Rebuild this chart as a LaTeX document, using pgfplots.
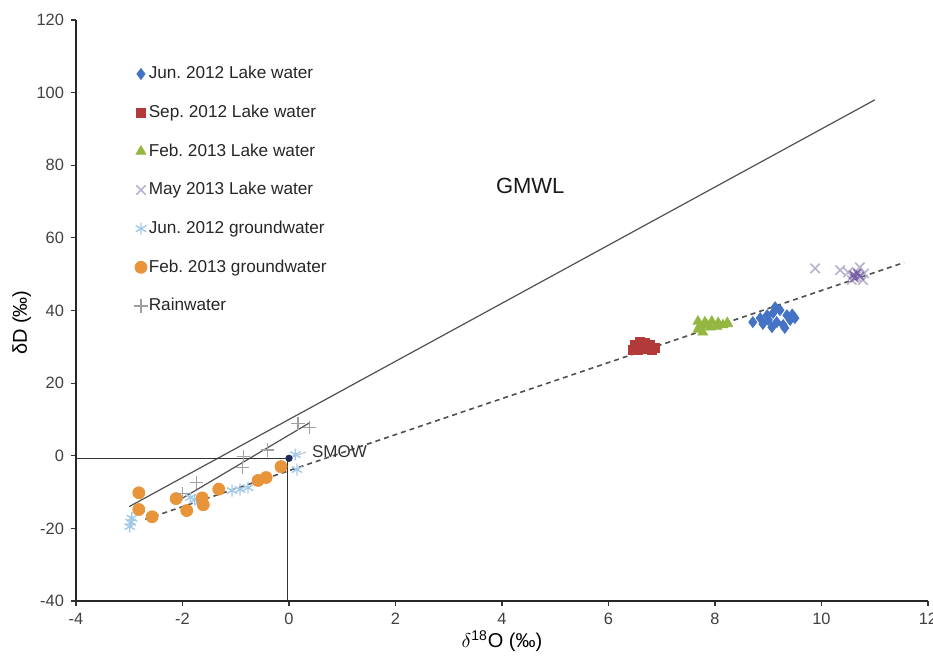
\documentclass[border=0pt]{standalone}
\usepackage{fontspec}
\setmainfont{Liberation Sans}
\usepackage{pgfplots}
\pgfplotsset{compat=1.18}
\frenchspacing
\definecolor{cblue}{HTML}{4472C4}
\definecolor{cred}{HTML}{B23A3A}
\definecolor{cgreen}{HTML}{93B740}
\definecolor{cmay}{HTML}{B9B1CE}
\definecolor{cmaydark}{HTML}{7055A3}
\definecolor{cgw}{HTML}{A3C9E8}
\definecolor{corange}{HTML}{E8943A}
\definecolor{crain}{HTML}{A0A0A0}
\definecolor{cnavy}{HTML}{1F2A5A}
\definecolor{cline}{HTML}{505050}
\begin{document}
\begin{tikzpicture}
\begin{axis}[
  scale only axis, width=426pt, height=290.5pt,
  xmin=-4, xmax=12, ymin=-40, ymax=120,
  xtick={-4,-2,...,12}, ytick={-40,-20,...,120},
  axis x line*=bottom, axis y line*=left,
  tick align=outside, major tick length=2.5pt,
  tick style={black!80, line width=0.6pt},
  axis line style={black!85, line width=0.8pt},
  ticklabel style={font=\fontsize{8.2}{9}\selectfont, text=black!75},
  /pgf/number format/assume math mode=true,
  every axis x label/.style={at={(axis description cs:0.5,0)}, anchor=center, yshift=-20pt},
  every axis y label/.style={at={(axis description cs:-0.0637,0.479)}, anchor=center, rotate=90},
  xlabel={\fontsize{10}{12}\selectfont $\delta$\textsuperscript{18}O (‰)},
  ylabel={\fontsize{10}{12}\selectfont δD (‰)},
  legend image code/.code={\draw[#1] plot coordinates {(0pt,0pt)};},
  legend cell align=left,
  legend style={draw=none, fill=none, at={(rel axis cs:0.061,0.93)}, anchor=north west,
    font=\fontsize{8.6}{10}\selectfont, text=black!85, row sep=10.4pt,
    nodes={inner sep=0.6pt}},
]
% Jun 2012 lake water
\addplot[only marks, mark=diamond*, mark size=2.7pt, color=cblue] coordinates {
(8.71,36.8) (8.85,37.9) (8.90,36.3) (9.00,37.4) (9.07,35.4) (9.13,40.9) (9.22,40.1)
(9.16,36.8) (9.28,36.0) (9.35,38.7) (9.41,37.4) (9.50,37.9) (9.31,35.2) (9.09,39.3)
(8.98,38.7) (9.45,38.9)};
\addlegendentry{Jun. 2012 Lake water}
% Sep 2012
\addplot[only marks, mark=square*, mark size=2.2pt, color=cred] coordinates {
(6.50,30.5) (6.59,31.3) (6.69,31.0) (6.78,30.5) (6.87,29.7) (6.55,29.1) (6.69,29.4)
(6.82,29.1) (6.46,29.1) (6.62,30.2)};
\addlegendentry{Sep. 2012 Lake water}
% Feb 2013 lake
\addplot[only marks, mark=triangle*, mark size=2.8pt, color=cgreen] coordinates {
(7.68,37.0) (7.81,36.8) (7.94,37.0) (8.06,36.6) (8.23,36.6) (7.68,34.8) (7.77,34.0)
(7.91,35.4) (8.04,35.6) (8.15,36.0) (8.24,36.3) (7.72,35.8) (7.85,36.0)};
\addlegendentry{Feb. 2013 Lake water}
% May 2013
\addplot[only marks, mark=x, mark size=3.3pt, line width=0.8pt, color=cmay] coordinates {
(9.88,51.6) (10.35,51.1) (10.50,50.5) (10.59,49.7) (10.67,50.5) (10.72,51.9)
(10.78,48.4) (10.57,48.4) (10.65,49.3) (10.80,50.2)};
\addlegendentry{May 2013 Lake water}
% Jun 2012 groundwater
\addplot[only marks, mark=asterisk, mark size=3pt, line width=0.7pt, color=cgw] coordinates {
(-2.99,-19.5) (-2.95,-17.2) (-2.97,-18.3) (-1.85,-11.5) (-1.77,-12.1) (-1.67,-12.6)
(-1.07,-9.6) (-0.92,-9.3) (-0.77,-8.8) (0.15,-3.8) (0.12,0.3)};
\addlegendentry{Jun. 2012 groundwater}
% Feb 2013 groundwater
\addplot[only marks, mark=*, mark size=3pt, color=corange] coordinates {
(-2.82,-10.2) (-2.82,-14.8) (-2.57,-16.8) (-2.12,-11.8) (-1.92,-15.1) (-1.63,-11.6)
(-1.61,-13.5) (-1.32,-9.2) (-0.58,-6.8) (-0.43,-6.0) (-0.15,-3.0)};
\addlegendentry{Feb. 2013 groundwater}
% Rainwater
\addplot[only marks, mark=+, mark size=3.3pt, line width=0.6pt, color=crain] coordinates {
(0.17,8.8) (0.39,7.7) (-0.41,1.6) (-0.86,-0.3) (-0.88,-3.3) (-1.73,-7.4) (-2.0,-10.5)};
\addlegendentry{Rainwater}
% darker purple overlap
\addplot[forget plot, only marks, mark=x, mark size=2.8pt, line width=0.9pt, color=cmaydark, opacity=0.7] coordinates {
(10.60,49.8) (10.67,50.3) (10.72,49.5) (10.62,48.9)};
% SMOW point
\addplot[forget plot, only marks, mark=*, mark size=1.6pt, color=cnavy] coordinates {(0,-0.7)};
% lines
\addplot[forget plot, cline, line width=0.6pt] coordinates {(-3,-14) (11,98)};
\addplot[forget plot, cline, line width=0.6pt] coordinates {(-2.14,-12.9) (0.39,9.1)};
\addplot[forget plot, cline, line width=0.8pt, dash pattern=on 2.5pt off 2pt] coordinates {(-2.7,-17.5) (11.55,53.2)};
\addplot[forget plot, black!80, line width=0.6pt] coordinates {(-4,-0.7) (-0.03,-0.7)};
\addplot[forget plot, black!80, line width=0.6pt] coordinates {(-0.03,-40) (-0.03,-0.7)};
\draw[gray!60, line width=0.4pt] (axis cs:0.05,-0.4) -- (axis cs:0.32,1.0);
\node[anchor=west, font=\fontsize{8.5}{10}\selectfont, text=black!80] at (axis cs:0.3,1.1) {SMOW};
\node[font=\fontsize{11}{13}\selectfont, text=black!90] at (axis cs:4.53,74.2) {GMWL};
\end{axis}
\pgfresetboundingbox
\path[use as bounding box] (-38pt,-29pt) rectangle (428.5pt,300.5pt);
\end{tikzpicture}
\end{document}
